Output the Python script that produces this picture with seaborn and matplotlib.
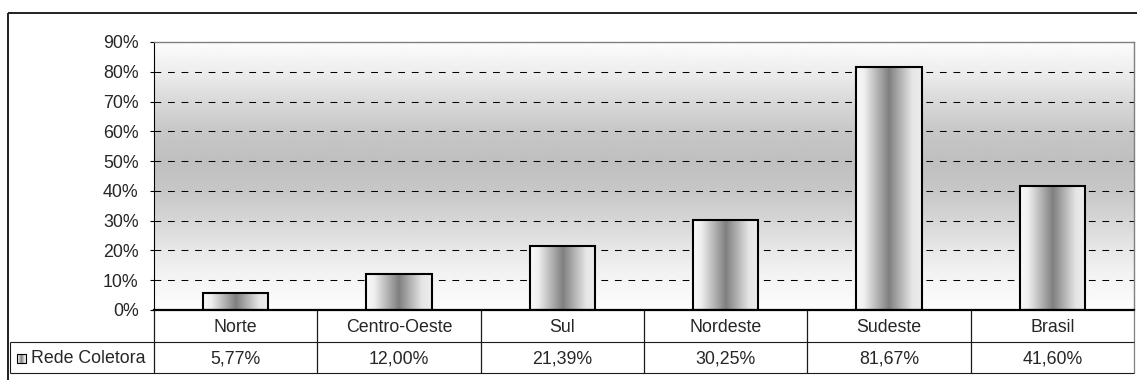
import numpy as np
import matplotlib
matplotlib.use("Agg")
import matplotlib.pyplot as plt
from matplotlib.colors import LinearSegmentedColormap
from matplotlib.patches import Rectangle
import seaborn as sns

# Share of households served by the sewage collection network, by region
regions = ["Norte", "Centro-Oeste", "Sul", "Nordeste", "Sudeste", "Brasil"]
rede_coletora = [5.77, 12.00, 21.39, 30.25, 81.67, 41.60]
series_name = "Rede Coletora"
y_ticks = [0, 10, 20, 30, 40, 50, 60, 70, 80, 90]

sns.set_style("white")
plt.rcParams["font.family"] = ["Liberation Sans", "DejaVu Sans"]
FS = 12.8

W, H = 1137, 380
fig = plt.figure(figsize=(W / 100, H / 100), dpi=100)
fig.patch.set_facecolor("white")

# layout in pixels
PL, PR, PT, PB = 154, 1134, 42, 310
ROW1, ROW2 = 342, 373
LABEL_L = 10


def fx(px):
    return px / W


def fy(py):
    return 1 - py / H


ax = fig.add_axes([fx(PL), fy(PB), fx(PR) - fx(PL), fy(PT) - fy(PB)])

sns.barplot(x=regions, y=rede_coletora, ax=ax, width=0.4,
            facecolor="none", edgecolor="black", linewidth=1.5, zorder=3)

# cylinder-like horizontal shading for the bars
bar_cmap = LinearSegmentedColormap.from_list(
    "bar", [(0.0, (0.98,) * 3), (0.12, (0.94,) * 3), (0.5, (0.50,) * 3),
            (0.85, (0.90,) * 3), (1.0, (0.93,) * 3)])
grad_h = np.linspace(0, 1, 256)[np.newaxis, :]

for patch in list(ax.patches):
    x0, y0 = patch.get_x(), patch.get_y()
    w, h = patch.get_width(), patch.get_height()
    im = ax.imshow(grad_h, cmap=bar_cmap, vmin=0, vmax=1,
                   extent=[x0, x0 + w, y0, y0 + h], aspect="auto",
                   zorder=2, interpolation="bilinear")
    im.set_clip_path(patch)
    patch.set_zorder(3)

# vertical background gradient of the plot area
bg_pos = [0, 10, 20, 30, 40, 50, 60, 70, 80, 90]
bg_val = [0.99, 0.96, 0.91, 0.84, 0.78, 0.75, 0.78, 0.85, 0.93, 0.99]
yy = np.linspace(0, 90, 400)
bg = np.interp(yy, bg_pos, bg_val)[:, np.newaxis]
ax.imshow(bg, cmap="gray", vmin=0, vmax=1, origin="lower",
          extent=[-0.5, len(regions) - 0.5, 0, 90], aspect="auto",
          zorder=0, interpolation="bilinear")

# dashed gridlines
for t in y_ticks[1:-1]:
    ax.axhline(t, color="black", lw=0.75, ls=(0, (6.5, 6.5)), zorder=1)

ax.set_xlim(-0.5, len(regions) - 0.5)
ax.set_ylim(0, 90)
ax.set_yticks(y_ticks)
ax.set_yticklabels([f"{t}%" for t in y_ticks], fontsize=FS)
ax.set_xticks([])
ax.set_xlabel("")
ax.set_ylabel("")
ax.tick_params(axis="y", direction="out", length=3, width=0.8,
               color="black", pad=8, left=True)
for side in ("top", "right"):
    ax.spines[side].set_color("#808080")
    ax.spines[side].set_linewidth(1.0)
ax.spines["left"].set_color("black")
ax.spines["left"].set_linewidth(0.8)
ax.spines["bottom"].set_color("black")
ax.spines["bottom"].set_linewidth(1.6)

# overlay in pixel coordinates for the frame and data table
ov = fig.add_axes([0, 0, 1, 1])
ov.set_xlim(0, W)
ov.set_ylim(H, 0)
ov.axis("off")
ov.patch.set_alpha(0)

# outer chart frame
ov.plot([7.5, 7.5], [12.5, H + 5], color="#202020", lw=1.4, solid_capstyle="butt")
ov.plot([7.5, W + 5], [12.5, 12.5], color="#202020", lw=1.4, solid_capstyle="butt")

line_kw = dict(color="#1a1a1a", lw=0.8, solid_capstyle="butt")
n = len(regions)
colw = (PR - PL) / n
bounds = [PL + k * colw for k in range(n + 1)]

for k, xb in enumerate(bounds):
    col = "#808080" if k == n else "#1a1a1a"
    ov.plot([xb, xb], [PB, ROW2], color=col, lw=0.9, solid_capstyle="butt")
ov.plot([LABEL_L, PR], [ROW1, ROW1], **line_kw)
ov.plot([LABEL_L, PR], [ROW2, ROW2], **line_kw)
ov.plot([LABEL_L, LABEL_L], [ROW1, ROW2], **line_kw)

for k, (name, val) in enumerate(zip(regions, rede_coletora)):
    cx = (bounds[k] + bounds[k + 1]) / 2
    ov.text(cx, (PB + ROW1) / 2 + 1, name, ha="center", va="center", fontsize=FS)
    ov.text(cx, (ROW1 + ROW2) / 2 + 1, f"{val:.2f}".replace(".", ",") + "%",
            ha="center", va="center", fontsize=FS)

# legend key and series name
key = Rectangle((17, 354), 9, 9, facecolor="none", edgecolor="black", lw=0.8, zorder=3)
ov.add_patch(key)
kim = ov.imshow(grad_h, cmap=bar_cmap, vmin=0, vmax=1,
                extent=[17, 26, 363, 354], aspect="auto", zorder=2)
kim.set_clip_path(key)
ov.set_xlim(0, W)
ov.set_ylim(H, 0)
ov.text(31, (ROW1 + ROW2) / 2 + 1, series_name, ha="left", va="center", fontsize=FS)

fig.savefig("out.png", dpi=100, facecolor="white")
